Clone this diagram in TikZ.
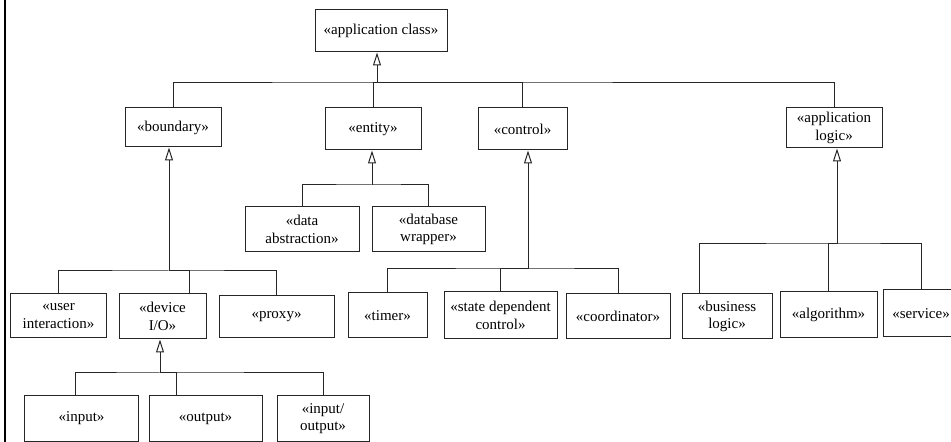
\documentclass[tikz,border=0pt]{standalone}
\usepackage{fontspec}
\setmainfont{Liberation Serif}
\usetikzlibrary{arrows.meta}
\begin{document}
\begin{tikzpicture}[x=1bp,y=-1bp,
  box/.style={draw=black!85, line width=1bp, inner sep=0pt, align=center,
    font=\fontsize{15bp}{17.5bp}\selectfont},
  link/.style={draw=black!85, line width=1bp},
  gen/.style={link, -{Triangle[open,length=13bp,width=8bp]}}]
\clip (0,0) rectangle (951,442);
\useasboundingbox (0,0) rectangle (951,442);
\draw[line width=2.5bp] (5,0) -- (5,442);
% level 0
\node[box, minimum width=132bp, minimum height=42bp] (app) at (381,31) {«application class»};
% level 1
\node[box, minimum width=96bp, minimum height=39bp] (bnd) at (173,127.5) {«boundary»};
\node[box, minimum width=96bp, minimum height=42bp] (ent) at (373,129) {«entity»};
\node[box, minimum width=89bp, minimum height=42bp] (ctl) at (522.5,129) {«control»};
\node[box, minimum width=96bp, minimum height=40bp] (alog) at (834,128) {«application\\logic»};
% entity children
\node[box, minimum width=114bp, minimum height=45bp] (da) at (302,229.5) {«data\\abstraction»};
\node[box, minimum width=113bp, minimum height=45bp] (dw) at (428.5,229.5) {«database\\wrapper»};
% boundary children
\node[box, minimum width=95bp, minimum height=44bp] (ui) at (58.5,316) {«user\\interaction»};
\node[box, minimum width=87bp, minimum height=45bp] (dev) at (162.5,316.5) {«device\\I/O»};
\node[box, minimum width=115bp, minimum height=42bp] (prx) at (276.5,317) {«proxy»};
% control children
\node[box, minimum width=79bp, minimum height=45bp] (tim) at (387.5,315.5) {«timer»};
\node[box, minimum width=113bp, minimum height=47bp] (sdc) at (500.5,315.5) {«state dependent\\control»};
\node[box, minimum width=104bp, minimum height=45bp] (crd) at (618,316.5) {«coordinator»};
% application logic children
\node[box, minimum width=90bp, minimum height=45bp] (bl) at (727,316.5) {«business\\logic»};
\node[box, minimum width=97bp, minimum height=46bp] (alg) at (828.5,315) {«algorithm»};
\node[box, minimum width=76bp, minimum height=47bp] (svc) at (921,313.5) {«service»};
% device children
\node[box, minimum width=113bp, minimum height=45bp] (inp) at (81.5,418.5) {«input»};
\node[box, minimum width=113bp, minimum height=45bp] (outp) at (205.5,418.5) {«output»};
\node[box, minimum width=92bp, minimum height=45bp] (io) at (323,418.5) {«input/\\output»};
% junctions
\coordinate (j0) at (377,83);
\coordinate (j1) at (169,271);
\coordinate (j2) at (372,185);
\coordinate (j3) at (528,269);
\coordinate (j4) at (837,244);
\coordinate (j5) at (160,373);
% generalisations
\draw[gen] (j0) -- (app.south -| j0);
\draw[link] (bnd.north) |- (j0) -| (alog.north);
\draw[link] (ent.north) |- (j0);
\draw[link] (ctl.north) |- (j0);
\draw[gen] (j1) -- (bnd.south -| j1);
\draw[link] (ui.north) |- (j1) -| (prx.north);
\draw[link] (dev.north) ++(26.5,0) |- (j1);
\draw[gen] (j2) -- (ent.south -| j2);
\draw[link] (da.north) |- (j2) -| (dw.north);
\draw[gen] (j3) -- (ctl.south -| j3);
\draw[link] (tim.north) |- (j3) -| (crd.north);
\draw[link] (sdc.north) |- (j3);
\draw[gen] (j4) -- (alog.south -| j4);
\draw[link] (bl.north) ++(-28,0) |- (j4) -| (svc.north);
\draw[link] (alg.north) |- (j4);
\draw[gen] (j5) -- (dev.south -| j5);
\draw[link] (inp.north) ++(-6.5,0) |- (j5) -| (io.north);
\draw[link] (outp.north) ++(-29.5,0) |- (j5);
\end{tikzpicture}
\end{document}
